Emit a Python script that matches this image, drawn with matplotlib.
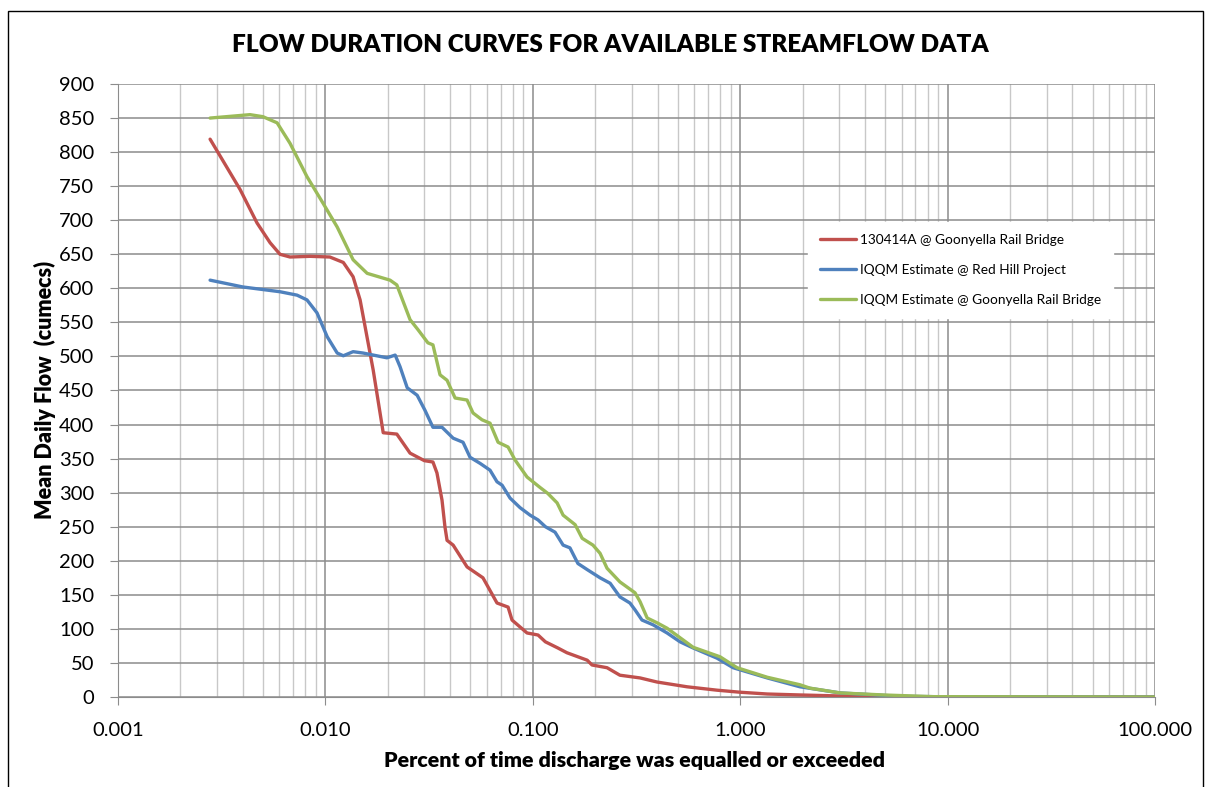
import matplotlib
matplotlib.use("Agg")
import matplotlib.pyplot as plt
from matplotlib.ticker import FixedLocator, FixedFormatter, LogLocator, NullFormatter
from matplotlib.patches import Rectangle

# ---- data (percent of time exceeded, mean daily flow in cumecs) ----
red_x = [0.00278, 0.00388, 0.00468, 0.00541, 0.00604, 0.00675, 0.00843, 0.0105, 0.0122,
         0.0136, 0.0147, 0.0170, 0.0190, 0.0221, 0.0256, 0.0300, 0.0330, 0.0345, 0.0365,
         0.0377, 0.0386, 0.0413, 0.0482, 0.0575, 0.0672, 0.0760, 0.0794, 0.0938, 0.106,
         0.115, 0.132, 0.146, 0.183, 0.193, 0.228, 0.263, 0.329, 0.397, 0.554, 0.773, 1.0,
         1.35, 1.94, 3.03, 5.90, 10.0, 100.0]
red_y = [819, 745, 696, 667, 650, 646, 647, 646, 638,
         617, 583, 480, 388, 386, 358, 347, 345, 329, 289,
         250, 230, 223, 191, 175, 138, 132, 113, 94, 91,
         81, 72, 65, 54, 47, 43, 32, 28, 22, 15, 10, 7,
         4.4, 3, 1.5, 0.5, 0.2, 0]

blue_x = [0.00278, 0.0040, 0.00604, 0.0073, 0.00815, 0.00911, 0.0102, 0.0114, 0.0122,
          0.0136, 0.0152, 0.0198, 0.0217, 0.0229, 0.0248, 0.0277, 0.0302, 0.0330, 0.0365,
          0.0413, 0.0461, 0.0498, 0.0557, 0.0622, 0.0672, 0.0711, 0.0777, 0.0868, 0.0970,
          0.106, 0.115, 0.128, 0.140, 0.151, 0.165, 0.183, 0.211, 0.236, 0.263, 0.294,
          0.311, 0.336, 0.380, 0.444, 0.513, 0.593, 0.773, 0.924, 1.35, 1.94, 3.03, 5.90,
          10.0, 100.0]
blue_y = [612, 602, 595, 590, 583, 564, 529, 505, 501,
          507, 505, 498, 502, 485, 454, 443, 421, 396, 396,
          380, 374, 352, 343, 333, 316, 311, 292, 278, 267,
          260, 250, 242, 223, 219, 196, 187, 175, 167, 147, 138,
          128, 113, 106, 94, 81, 72, 57, 43, 28, 15, 6, 1,
          0.3, 0]

green_x = [0.00278, 0.00433, 0.0050, 0.00585, 0.00675, 0.00815, 0.00974, 0.0114, 0.0136,
           0.0159, 0.0205, 0.0221, 0.0256, 0.0280, 0.0312, 0.0330, 0.0357, 0.0386, 0.0422,
           0.0482, 0.0515, 0.0569, 0.0622, 0.0680, 0.0760, 0.0821, 0.0938, 0.108, 0.118,
           0.131, 0.140, 0.160, 0.173, 0.195, 0.211, 0.228, 0.263, 0.311, 0.329, 0.356,
           0.397, 0.444, 0.513, 0.593, 0.800, 0.966, 1.35, 1.94, 2.17, 3.03, 4.89, 8.51,
           100.0]
green_y = [850, 855, 852, 843, 813, 764, 725, 690, 642,
           622, 612, 605, 554, 539, 520, 517, 473, 465, 439,
           436, 417, 407, 402, 374, 367, 348, 323, 308, 299,
           285, 267, 253, 233, 223, 211, 189, 169, 153, 140, 116,
           109, 101, 87, 73, 59, 43, 29, 18, 13, 6, 3, 0.5,
           0]

series_labels = ["130414A @ Goonyella Rail Bridge",
                 "IQQM Estimate @ Red Hill Project",
                 "IQQM Estimate @ Goonyella Rail Bridge"]
series_colors = ["#C0504D", "#4F81BD", "#9BBB59"]

x_ticks = [0.001, 0.01, 0.1, 1, 10, 100]
x_tick_labels = ["0.001", "0.010", "0.100", "1.000", "10.000", "100.000"]
y_ticks = list(range(0, 901, 50))

title = "FLOW DURATION CURVES FOR AVAILABLE STREAMFLOW DATA"
x_label = "Percent of time discharge was equalled or exceeded"
y_label = "Mean Daily Flow  (cumecs)"

# ---- figure ----
plt.rcParams['font.family'] = ['Lato', 'DejaVu Sans']
W, H = 1205, 787
fig = plt.figure(figsize=(W / 100, H / 100), dpi=100)
fig.patch.set_facecolor("white")

ax = fig.add_axes([118 / W, 1 - 697 / H, (1155 - 118) / W, (697 - 84) / H])
ax.set_xscale("log")
ax.set_xlim(0.001, 100)
ax.set_ylim(0, 900)

ax.xaxis.set_major_locator(FixedLocator(x_ticks))
ax.xaxis.set_major_formatter(FixedFormatter(x_tick_labels))
ax.xaxis.set_minor_locator(LogLocator(base=10, subs=range(2, 10), numticks=20))
ax.xaxis.set_minor_formatter(NullFormatter())
ax.set_yticks(y_ticks)

ax.grid(which="major", axis="x", color="#8C8C8C", linewidth=1.1)
ax.grid(which="minor", axis="x", color="#C8C8C8", linewidth=1.0)
ax.grid(which="major", axis="y", color="#8C8C8C", linewidth=1.1)
ax.set_axisbelow(True)

for s in ["top", "right"]:
    ax.spines[s].set_visible(False)
ax.spines["left"].set_color("#8C8C8C")
ax.spines["bottom"].set_color("#8C8C8C")
ax.tick_params(axis="both", which="major", length=6, color="#8C8C8C",
               labelsize=14.5, labelcolor="black")
ax.tick_params(axis="x", which="minor", length=0)
ax.tick_params(axis="x", which="major", pad=12)
ax.tick_params(axis="y", which="major", pad=11)

for xs, ys, lab, col in zip([red_x, blue_x, green_x], [red_y, blue_y, green_y],
                            series_labels, series_colors):
    ax.plot(xs, ys, color=col, linewidth=2.4, label=lab,
            solid_joinstyle="round", solid_capstyle="round")

leg = ax.legend(loc="upper left", bbox_to_anchor=((808 - 118) / (1155 - 118), (697 - 222) / (697 - 84)),
                frameon=True, fancybox=False, fontsize=9.8, handlelength=2.6,
                handletextpad=0.3, labelspacing=1.3, borderpad=0.9, borderaxespad=0)
leg.get_frame().set_edgecolor("white")
leg.get_frame().set_facecolor("white")
leg.get_frame().set_alpha(1.0)

fig.text(610 / W, 1 - 45 / H, title, ha="center", va="center",
         fontsize=17.6, fontweight="heavy")
fig.text(635 / W, 1 - 760 / H, x_label, ha="center", va="center",
         fontsize=15.4, fontweight="heavy")
fig.text(45 / W, 1 - 390 / H, y_label, ha="center", va="center",
         fontsize=15.5, fontweight="heavy", rotation=90)

fig.add_artist(Rectangle((8 / W, -0.01), (1203 - 8) / W, 1 - 11 / H + 0.01,
                         transform=fig.transFigure, fill=False,
                         edgecolor="black", linewidth=1.0))

fig.savefig("out.png", dpi=100, facecolor="white")
